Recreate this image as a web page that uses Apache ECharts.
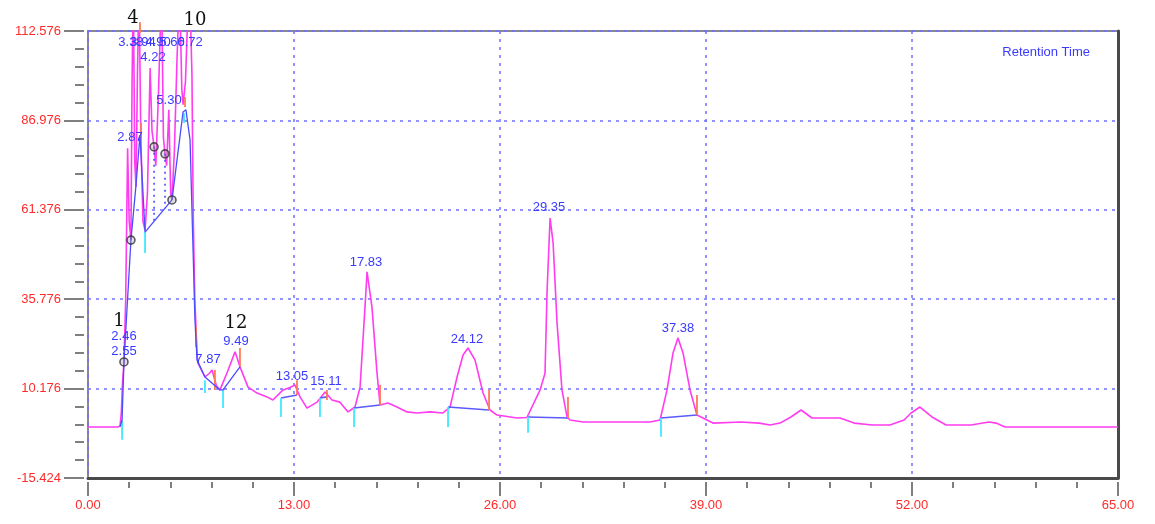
<!DOCTYPE html>
<html><head><meta charset="utf-8">
<script src="https://cdn.jsdelivr.net/npm/echarts@6/dist/echarts.min.js"></script>
<style>html,body{margin:0;padding:0;background:#fff}#c{width:1155px;height:524px}</style>
</head><body><div id="c"></div>
<script>
// ---- axis definitions ----
const xMin = 0, xMax = 65, xStep = 13;
const yMin = -15.424, yMax = 112.576, yStep = 25.6;

// ---- main detector signal (time, response) ----
const sigX = [0,1.89,2.02,2.10,2.18,2.27,2.38,2.50,2.60,2.71,2.78,2.86,2.95,3.03,3.12,3.22,3.33,3.47,3.60,3.75,3.92,4.04,4.17,4.28,4.45,4.64,4.76,4.86,4.96,5.10,5.22,5.30,5.45,5.62,5.78,5.92,6.00,6.15,6.30,6.42,6.56,6.64,6.74,6.82,6.90,6.94,7.38,7.65,7.83,8.10,8.33,8.80,9.28,9.59,10.10,10.67,11.30,11.67,12.31,12.75,13.06,13.38,13.82,14.45,14.96,15.40,15.90,16.41,16.85,17.17,17.48,17.61,17.92,18.24,18.43,18.93,19.50,20.13,20.76,21.58,22.40,22.85,23.29,23.67,23.98,24.42,24.93,25.37,25.81,27.07,27.70,28.53,28.84,28.97,29.16,29.35,29.60,29.91,30.23,30.42,31.24,33.38,35.47,36.10,36.54,36.92,37.23,37.55,37.99,38.43,39.44,41.21,42.35,43.04,43.67,44.36,45.00,45.69,46.57,47.46,48.34,49.48,50.61,51.50,51.94,52.50,53.26,54.15,55.72,56.86,57.30,57.87,61.28,64.62,65];
const sigY = [-0.8,-0.8,-0.5,3,12,17.8,36,79,58,52.7,98,125,75,68,100,125,83,58,55.6,66,102,84,79.4,74,95,125,82,77.4,74,90,66,64.2,78,105,125,96,91.5,98,118,125,100,60,36,27,19,17.5,13.5,14.5,15.5,11,9.8,15,20.7,16.4,10.6,8.9,7.8,6.9,9.8,10.5,11.2,7.8,4.6,6.3,9.2,6.9,6.3,3.5,4.9,10.6,33.5,43.6,33.5,14.6,5.5,6.05,4.9,3.5,3.2,3.5,3.2,4.9,13.5,19.8,21.8,18.4,8.9,4.05,2.6,1.76,1.9,9.8,14.6,38,59.0,52,29.0,9.8,2.05,1.2,0.6,0.6,0.6,1.2,9.8,20.4,24.7,20.4,9.8,2.6,0.3,0.6,0.3,-0.25,0.3,2.05,4.05,1.76,1.76,1.76,0.3,-0.25,-0.25,1.2,3.2,4.9,2.05,-0.25,-0.25,0.6,0.3,-0.8,-0.8,-0.8,-0.8];

// ---- integrator trace in the unresolved cluster ----
const traceX = [2.02,2.15,2.27,2.71,3.03,3.28,3.60,5.30,6.00,6.18,6.44,6.63,6.75,6.88,7.38,8.33,8.52,9.59];
const traceY = [-0.8,1.2,17.8,52.7,68.5,82.8,55.0,64.2,89.4,90.0,81.4,49.9,29.8,18.4,13.5,9.8,9.8,16.4];

// ---- baselines [x1,y1,x2,y2] ----
const baselines = [[12.18,7.5,13.19,8.35],[14.64,7.5,15.08,7.8],[16.79,4.6,18.43,5.5],[22.72,4.9,25.31,4.05],[27.77,2.05,30.29,1.76],[36.16,1.76,38.43,2.6]];
// ---- dropped perpendiculars [x,yTop,yBottom] ----
const drops = [[4.17,79.4,58.1],[4.86,77.4,61.8]];
// ---- peak start markers [x,y1,y2] ----
const startMarks = [[2.15,1.2,-4.5],[3.60,55.0,49.0],[6.06,89.1,86.2],[7.38,12.6,8.9],[8.52,9.8,4.6],[12.18,7.5,2.05],[14.64,7.5,2.05],[16.79,4.6,-0.8],[22.72,4.9,-0.8],[27.77,2.05,-2.5],[36.16,1.76,-3.6]];
// ---- peak end markers [x,y1,y2] ----
const endMarks = [[3.28,115.1,112.0],[3.35,86.2,80.5],[6.12,93.7,90.8],[6.82,27.8,22.1],[8.01,15.5,9.8],[9.59,21.8,16.4],[13.19,12.6,8.35],[15.08,9.8,6.9],[18.43,11.2,5.5],[25.31,9.8,4.05],[30.29,7.8,1.76],[38.43,8.35,2.6]];
// ---- marked points ----
const circX = [2.27,2.71,4.17,4.86,5.30];
const circY = [17.8,52.7,79.4,77.4,64.2];
// ---- retention time labels ----
const rtText = ["2.46","2.55","2.87","3.38","3.94","4.90","5.60","6.72","4.22","5.30","7.87","9.49","13.05","15.11","17.83","24.12","29.35","37.38"];
const rtX = [2.27,2.27,2.65,2.71,3.47,4.42,5.30,6.44,4.10,5.11,7.57,9.34,12.87,15.02,17.54,23.92,29.09,37.23];
const rtY = [25.0,20.7,82.2,109.4,109.4,109.4,109.4,109.4,105.1,92.8,18.4,23.8,13.8,12.1,46.4,24.4,62.2,27.5];
// ---- peak numbers ----
const numText = ["1","4","10","12"];
const numX = [1.96,2.84,6.75,9.34];
const numY = [29.5,116.3,115.7,29.0];

const zip = (a,b) => a.map((v,i)=>[v,b[i]]);
function segSeries(rows, color, width, dash, z){
  return {type:'custom', coordinateSystem:'cartesian2d', clip:false, z:z||3,
    encode:{x:[0,2],y:[1,3]},
    data: rows,
    renderItem:function(p, api){
      const a = api.coord([api.value(0),api.value(1)]);
      const b = api.coord([api.value(2),api.value(3)]);
      return {type:'line', shape:{x1:a[0],y1:a[1],x2:b[0],y2:b[1]}, style:{stroke:color,lineWidth:width,lineDash:dash||null}};
    }};
}
function textSeries(txt, xs, ys, color, font, z){
  return {type:'custom', coordinateSystem:'cartesian2d', clip:false, z:z||6,
    data: zip(xs,ys),
    renderItem:function(p, api){
      const c = api.coord([api.value(0),api.value(1)]);
      return {type:'text', x:c[0], y:c[1], style:{text:txt[p.dataIndex], fill:color, font:font, align:'center', verticalAlign:'middle'}};
    }};
}

const chart = echarts.init(document.getElementById('c'), null, {renderer:'canvas'});
chart.setOption({
  animation:false,
  backgroundColor:'#ffffff',
  title:{text:'Retention Time', right:60, top:41, textStyle:{color:'#3a3aff', fontSize:13, fontWeight:'normal', fontFamily:'Liberation Sans'}},
  grid:{left:88, right:37, top:31, bottom:46, show:true, borderColor:'#8a8a8a', borderWidth:2, backgroundColor:'#ffffff'},
  xAxis:[{type:'value', min:xMin, max:xMax, interval:xStep, offset:4,
    axisLine:{show:false, onZero:false},
    axisTick:{show:true, length:14, lineStyle:{color:'#555', width:1.5}},
    minorTick:{show:true, splitNumber:5, length:6, lineStyle:{color:'#555', width:1.5}},
    axisLabel:{color:'#ff2a2a', fontSize:13, fontFamily:'Liberation Sans', margin:17, formatter:v=>v.toFixed(2)},
    splitLine:{show:true, lineStyle:{color:'#7070ff', type:[3,5], width:1.5}}},
   {type:'value', min:xMin, max:xMax, position:'bottom', axisLine:{show:true, onZero:false, lineStyle:{color:'#4a4a4a', width:3}}, axisTick:{show:false}, axisLabel:{show:false}, splitLine:{show:false}}],
  yAxis:[{type:'value', min:yMin, max:yMax, interval:yStep, offset:4,
    axisLine:{show:false, onZero:false},
    axisTick:{show:true, length:20, lineStyle:{color:'#555', width:1.5}},
    minorTick:{show:true, splitNumber:5, length:9, lineStyle:{color:'#555', width:1.5}},
    axisLabel:{color:'#ff2a2a', fontSize:13, fontFamily:'Liberation Sans', margin:23, formatter:v=>v.toFixed(3)},
    splitLine:{show:true, lineStyle:{color:'#7070ff', type:[3,5], width:1.5}}},
   {type:'value', min:yMin, max:yMax, position:'right', axisLine:{show:true, onZero:false, lineStyle:{color:'#4a4a4a', width:3}}, axisTick:{show:false}, axisLabel:{show:false}, splitLine:{show:false}}],
  series:[
    {type:'line', data:zip(sigX,sigY), showSymbol:false, symbol:'none', clip:true, z:4,
     lineStyle:{color:'#ff3cf0', width:1.6}},
    {type:'line', data:zip(traceX,traceY), showSymbol:false, symbol:'none', clip:true, z:5,
     lineStyle:{color:'#4c4cff', width:1.3}},
    segSeries(baselines,'#5a5aff',1.6,null,5),
    segSeries(drops.map(d=>[d[0],d[1],d[0],d[2]]),'#4c4cff',1.6,[2,4],5),
    segSeries(startMarks.map(d=>[d[0],d[1],d[0],d[2]]),'#40e8ff',1.8,null,5),
    segSeries(endMarks.map(d=>[d[0],d[1],d[0],d[2]]),'#ff7a55',1.8,null,5),
    {type:'scatter', data:zip(circX,circY), symbol:'circle', symbolSize:8, z:7,
     itemStyle:{color:'rgba(140,140,140,0.35)', borderColor:'#333', borderWidth:1.6}},
    textSeries(rtText, rtX, rtY, '#3a3aff', '13px "Liberation Sans"', 8),
    textSeries(numText, numX, numY, '#111111', '18px "DejaVu Serif"', 8)
  ]
});
</script></body></html>
